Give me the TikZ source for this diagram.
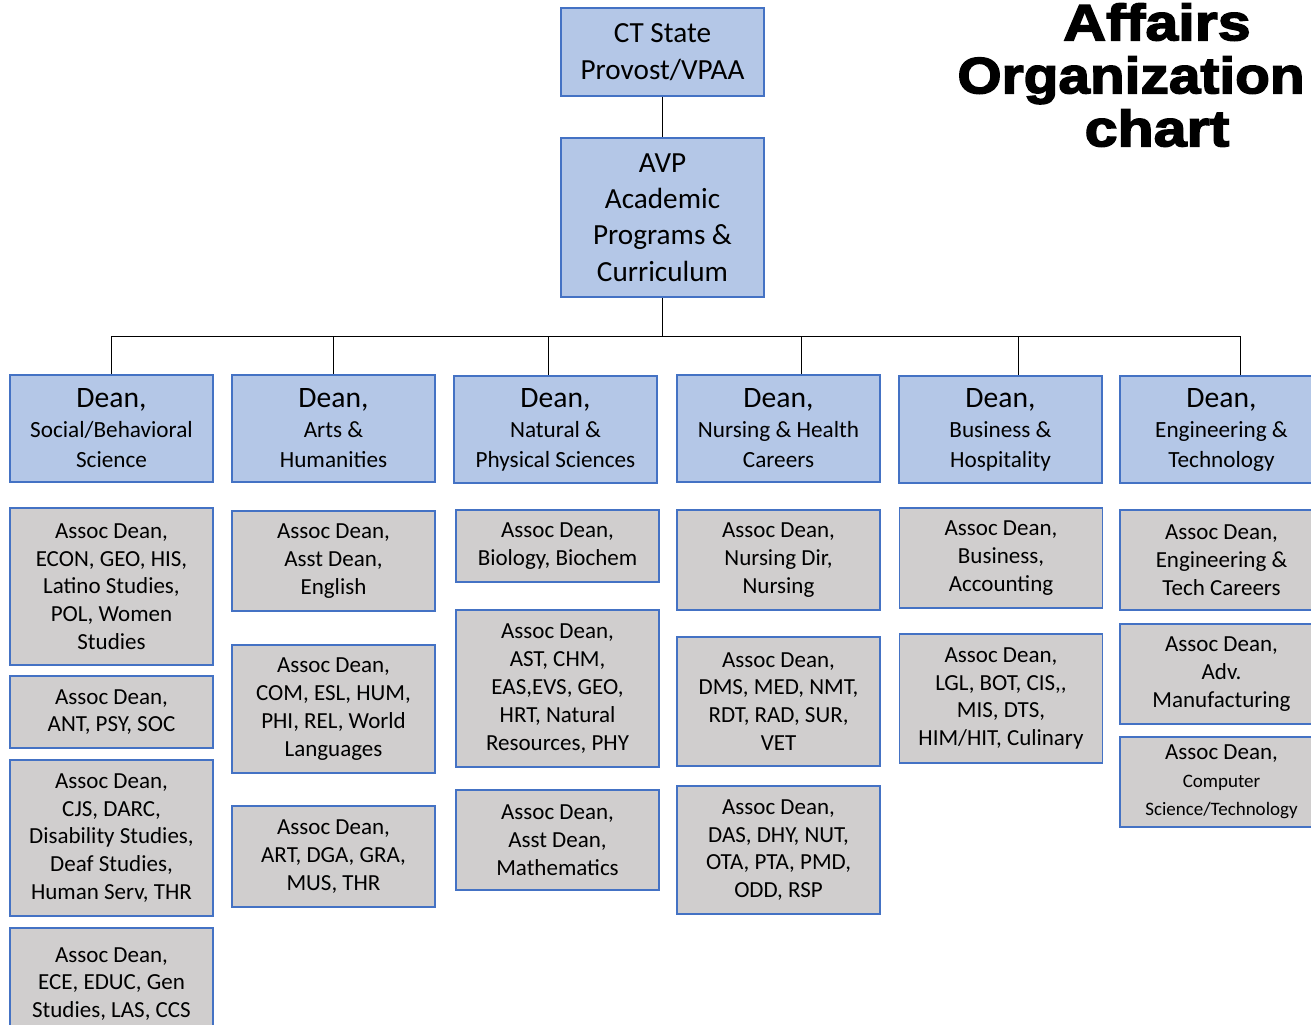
\documentclass[tikz,border=0pt]{standalone}
\usepackage{fontspec}
\setmainfont{Carlito}
\newfontfamily\titlefont[FakeBold=3,FakeStretch=1.16]{Liberation Sans Bold}
\usetikzlibrary{positioning}

\definecolor{boxblue}{HTML}{B4C7E7}
\definecolor{boxgray}{HTML}{D0CECE}
\definecolor{edgeblue}{HTML}{4472C4}

\tikzset{
  orgbox/.style={draw=edgeblue,line width=0.6pt,inner sep=0pt,align=center,minimum width=101.5pt},
  topbox/.style={orgbox,fill=boxblue,font=\fontsize{14.6}{18.2}\selectfont},
  deanbox/.style={orgbox,fill=boxblue,minimum height=53.5pt,font=\fontsize{11.6}{15}\selectfont},
  assocbox/.style={orgbox,fill=boxgray,font=\fontsize{11.5}{13.9}\selectfont},
  link/.style={draw=black,line width=0.5pt}
}
\newcommand{\deanline}{{\fontsize{14.8}{15}\selectfont Dean,}}

\begin{document}
\begin{tikzpicture}[x=0.5pt,y=-0.5pt]
\useasboundingbox (0,0) rectangle (1311,1024);
\clip (0,0) rectangle (1311,1024);
% title
\node[font=\titlefont\fontsize{25.5}{26.5}\selectfont,align=center] (title) at (1157,75) {Affairs\\\hspace*{-26pt}\scalebox{0.96}[1]{Organization}\\chart};
% top of the chart
\node[topbox,minimum height=44pt] (provost) at (662.5,52) {CT State\\Provost/VPAA};
\node[topbox,minimum height=79.5pt] (avp) at (662.5,217.5) {AVP\\Academic\\Programs \&\\Curriculum};
\draw[link] (provost.south) -- (avp.north);
% deans
\node[deanbox] (d1) at (111.5,428.5) {\deanline\\Social/Behavioral\\Science};
\node[deanbox] (d2) at (333.5,428.5) {\deanline\\Arts \&\\Humanities};
\node[deanbox] (d3) at (555.5,429.5) {\deanline\\Natural \&\\Physical Sciences};
\node[deanbox] (d4) at (778.5,428.5) {\deanline\\Nursing \& Health\\Careers};
\node[deanbox] (d5) at (1000.5,429.5) {\deanline\\Business \&\\Hospitality};
\node[deanbox] (d6) at (1221.5,429.5) {\deanline\\Engineering \&\\Technology};
% bus
\coordinate (b1) at (111,336);
\coordinate (b2) at (333,336);
\coordinate (b3) at (548,336);
\coordinate (b4) at (801,336);
\coordinate (b5) at (1018,336);
\coordinate (b6) at (1240,336);
\coordinate (bmid) at (662.5,336);
\draw[link] (avp.south) -- (bmid);
\draw[link] (b1) -- (b6);
\foreach \i in {1,...,6}
  \draw[link] (b\i) -- (b\i |- d\i.north);
% social/behavioral
\node[assocbox,minimum height=78.5pt] (s1) at (111.5,586.5) {Assoc Dean,\\ECON, GEO, HIS,\\Latino Studies,\\POL, Women\\Studies};
\node[assocbox,minimum height=36pt] (s2) at (111.5,712) {Assoc Dean,\\ANT, PSY, SOC};
\node[assocbox,minimum height=78pt] (s3) at (111.5,838) {Assoc Dean,\\CJS, DARC,\\Disability Studies,\\Deaf Studies,\\Human Serv, THR};
\node[assocbox,minimum height=56pt] (s4) at (111.5,984) {Assoc Dean,\\ECE, EDUC, Gen\\Studies, LAS, CCS};
% arts
\node[assocbox,minimum height=50pt] (a1) at (333.5,561) {Assoc Dean,\\Asst Dean,\\English};
\node[assocbox,minimum height=64pt] (a2) at (333.5,709) {Assoc Dean,\\COM, ESL, HUM,\\PHI, REL, World\\Languages};
\node[assocbox,minimum height=50.5pt] (a3) at (333.5,856.5) {Assoc Dean,\\ART, DGA, GRA,\\MUS, THR};
% natural & physical
\node[assocbox,minimum height=36pt] (n1) at (557.5,546) {Assoc Dean,\\Biology, Biochem};
\node[assocbox,minimum height=78.5pt] (n2) at (557.5,688.5) {Assoc Dean,\\AST, CHM,\\EAS,EVS, GEO,\\HRT, Natural\\Resources, PHY};
\node[assocbox,minimum height=50pt] (n3) at (557.5,840) {Assoc Dean,\\Asst Dean,\\Mathematics};
% nursing & health
\node[assocbox,minimum height=50pt] (h1) at (778.5,560) {Assoc Dean,\\Nursing Dir,\\Nursing};
\node[assocbox,minimum height=64.5pt] (h2) at (778.5,701.5) {Assoc Dean,\\DMS, MED, NMT,\\RDT, RAD, SUR,\\VET};
\node[assocbox,minimum height=64pt] (h3) at (778.5,850) {Assoc Dean,\\DAS, DHY, NUT,\\OTA, PTA, PMD,\\ODD, RSP};
% business & hospitality
\node[assocbox,minimum height=50pt] (p1) at (1001,558) {Assoc Dean,\\Business,\\Accounting};
\node[assocbox,minimum height=64.5pt] (p2) at (1001,698.5) {Assoc Dean,\\LGL, BOT, CIS,{},\\MIS, DTS,\\HIM/HIT, Culinary};
% engineering & technology
\node[assocbox,minimum height=50pt] (e1) at (1221.5,560) {Assoc Dean,\\Engineering \&\\Tech Careers};
\node[assocbox,minimum height=50pt] (e2) at (1221.5,674) {Assoc Dean,\\Adv.\\Manufacturing};
\node[assocbox,minimum height=45pt] (e3) at (1221.5,782) {Assoc Dean,\\{\fontsize{9.5}{12.5}\selectfont Computer}\\{\fontsize{9.5}{12.5}\selectfont Science/Technology}};
\end{tikzpicture}
\end{document}
